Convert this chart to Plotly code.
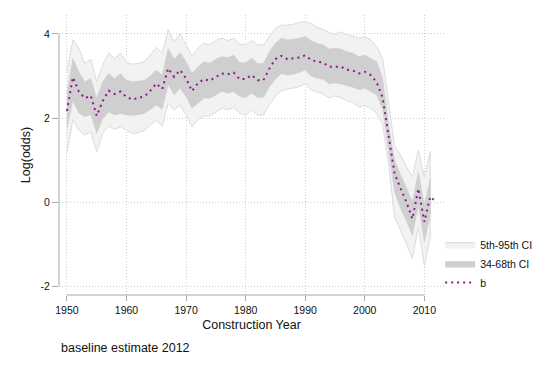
import plotly.graph_objects as go

years = list(range(1950, 2012))
years_b = list(range(1950, 2013))

# point estimate
b = [2.17, 2.97, 2.63, 2.47, 2.53, 2.05, 2.40, 2.65, 2.57, 2.63,
     2.50, 2.44, 2.48, 2.51, 2.65, 2.82, 2.69, 3.18, 2.98, 3.14,
     2.94, 2.64, 2.83, 2.92, 2.89, 2.97, 3.06, 3.04, 3.08, 2.92,
     2.93, 3.02, 2.90, 2.90, 3.18, 3.40, 3.48, 3.40, 3.42, 3.44,
     3.49, 3.38, 3.34, 3.32, 3.22, 3.22, 3.22, 3.15, 3.13, 3.06,
     3.10, 3.02, 2.85, 2.48, 1.58, 0.68, 0.33, 0.00, -0.40, 0.32,
     -0.47, 0.13, 0.00]

# 5th-95th interval
ci90_hi = [3.10, 3.86, 3.66, 3.30, 3.40, 2.86, 3.26, 3.54, 3.42, 3.54,
           3.32, 3.28, 3.30, 3.34, 3.50, 3.68, 3.54, 4.10, 3.82, 4.00,
           3.74, 3.48, 3.66, 3.78, 3.74, 3.84, 3.90, 3.84, 3.90, 3.76,
           3.74, 3.84, 3.74, 3.74, 3.94, 4.13, 4.21, 4.21, 4.23, 4.27,
           4.29, 4.25, 4.15, 4.11, 4.03, 3.99, 4.05, 3.98, 3.95, 3.90,
           3.93, 3.86, 3.70, 3.42, 2.37, 1.33, 1.12, 0.84, 0.60, 1.24,
           0.60, 1.20]
ci90_lo = [1.17, 1.95, 1.71, 1.60, 1.67, 1.20, 1.63, 1.81, 1.73, 1.79,
           1.71, 1.63, 1.65, 1.71, 1.82, 1.95, 1.81, 2.35, 2.19, 2.31,
           2.07, 1.79, 1.97, 2.05, 2.05, 2.15, 2.23, 2.19, 2.25, 2.11,
           2.07, 2.19, 2.07, 2.07, 2.33, 2.51, 2.65, 2.69, 2.71, 2.75,
           2.81, 2.67, 2.62, 2.57, 2.48, 2.53, 2.48, 2.41, 2.37, 2.26,
           2.30, 2.23, 2.11, 1.85, 0.90, -0.35, -0.68, -1.00, -1.34, -0.59,
           -1.52, -0.83]

# 34-68th interval
ci34_hi = [2.60, 3.42, 3.10, 2.86, 2.94, 2.47, 2.86, 3.06, 2.94, 3.06,
           2.90, 2.86, 2.88, 2.90, 3.00, 3.14, 3.02, 3.66, 3.40, 3.56,
           3.34, 3.06, 3.22, 3.34, 3.30, 3.40, 3.46, 3.44, 3.50, 3.32,
           3.32, 3.42, 3.30, 3.30, 3.58, 3.78, 3.90, 3.86, 3.88, 3.90,
           3.94, 3.84, 3.78, 3.74, 3.64, 3.66, 3.64, 3.58, 3.54, 3.46,
           3.50, 3.42, 3.34, 2.95, 1.85, 1.00, 0.65, 0.35, 0.00, 0.72,
           -0.05, 0.55]
ci34_lo = [1.75, 2.40, 2.12, 2.03, 2.08, 1.63, 1.98, 2.14, 2.07, 2.11,
           2.07, 2.06, 2.08, 2.11, 2.20, 2.31, 2.21, 2.79, 2.55, 2.71,
           2.51, 2.23, 2.35, 2.47, 2.47, 2.55, 2.63, 2.59, 2.63, 2.51,
           2.49, 2.59, 2.49, 2.49, 2.75, 2.92, 3.06, 3.02, 3.04, 3.08,
           3.14, 3.00, 2.94, 2.92, 2.81, 2.83, 2.81, 2.77, 2.73, 2.67,
           2.71, 2.63, 2.55, 2.20, 1.20, 0.25, -0.15, -0.45, -0.80, -0.08,
           -0.95, -0.30]

x_ticks = [1950, 1960, 1970, 1980, 1990, 2000, 2010]
y_ticks = [-2, 0, 2, 4]
y_ticktext = ["-2", "0", "2", "4"]

FONT = "Liberation Sans, Arial, sans-serif"
AXIS_GREY = "#a8a8a8"
GRID = "#cfcfcf"

fig = go.Figure()

# outer band as closed polygon
fig.add_trace(
    go.Scatter(
        x=years + years[::-1],
        y=ci90_hi + ci90_lo[::-1],
        fill="toself",
        fillcolor="#f2f2f2",
        line={"color": "#dcdcdc", "width": 1},
        mode="lines",
        name="5th-95th CI",
        hoverinfo="skip",
    )
)

# inner band
fig.add_trace(
    go.Scatter(
        x=years + years[::-1],
        y=ci34_hi + ci34_lo[::-1],
        fill="toself",
        fillcolor="#cfcfcf",
        line={"color": "#cfcfcf", "width": 0.5},
        mode="lines",
        name="34-68th CI",
        hoverinfo="skip",
    )
)

fig.add_trace(
    go.Scatter(
        x=years_b,
        y=b,
        mode="lines",
        name="b",
        line={"color": "#8c1a8c", "width": 2, "dash": "2px,4px"},
    )
)

# axis lines only span the tick range (Stata look)
fig.add_shape(type="line", xref="x", yref="paper", x0=1950, x1=2010, y0=0, y1=0,
              line={"color": AXIS_GREY, "width": 1})
fig.add_shape(type="line", xref="paper", yref="y", x0=0, x1=0, y0=-2, y1=4,
              line={"color": AXIS_GREY, "width": 1})

fig.add_annotation(
    text="baseline estimate 2012",
    xref="paper", yref="paper", x=0, y=-0.19,
    xanchor="left", yanchor="middle", showarrow=False,
    font={"family": FONT, "size": 12.5, "color": "#111"},
)

# page body adds an 8px offset, so the figure is sized 8px smaller
fig.update_layout(
    width=546,
    height=361,
    margin={"l": 51, "r": 110, "t": 7, "b": 74},
    plot_bgcolor="white",
    paper_bgcolor="white",
    font={"family": FONT, "color": "#111"},
    showlegend=True,
    legend={
        "x": 0.99, "y": 0.232, "xanchor": "left", "yanchor": "top",
        "font": {"size": 10.5, "family": FONT},
        "bgcolor": "rgba(0,0,0,0)",
        "tracegroupgap": 0,
        "itemwidth": 30,
    },
    xaxis={
        "range": [1948.67, 2013.3],
        "tickvals": x_ticks,
        "automargin": False,
        "showline": False,
        "zeroline": False,
        "showgrid": True,
        "gridcolor": GRID,
        "griddash": "1px,2px",
        "gridwidth": 1,
        "ticks": "outside",
        "ticklen": 5,
        "tickcolor": AXIS_GREY,
        "tickfont": {"size": 10.5},
        "title": {"text": "Construction Year", "font": {"size": 12.5}, "standoff": 5},
    },
    yaxis={
        "range": [-2.21, 4.45],
        "tickvals": y_ticks,
        "ticktext": y_ticktext,
        "automargin": False,
        "showline": False,
        "zeroline": False,
        "showgrid": True,
        "gridcolor": GRID,
        "griddash": "1px,2px",
        "gridwidth": 1,
        "ticks": "outside",
        "ticklen": 6,
        "tickcolor": AXIS_GREY,
        "tickfont": {"size": 10.5},
        "title": {"text": "Log(odds)", "font": {"size": 12.5}, "standoff": 7},
    },
)

fig.write_html("out.html")
